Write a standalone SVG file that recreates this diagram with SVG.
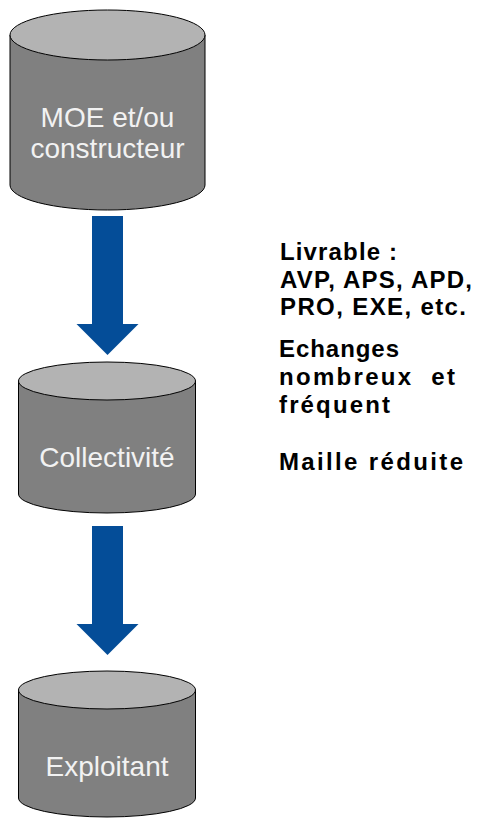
<svg xmlns="http://www.w3.org/2000/svg" width="479" height="818" viewBox="0 0 479 818">
<style>
.body{fill:#808080;stroke:#000;stroke-width:1}
.top{fill:#b3b3b3;stroke:#000;stroke-width:1}
.lbl{font-family:"Liberation Sans",Arial,sans-serif;font-size:28px;fill:#f2f2f2;text-anchor:middle}
.note{font-family:"Liberation Sans",Arial,sans-serif;font-weight:bold;font-size:24px;fill:#000}
.arrow{fill:#044d98}
</style>
<rect width="479" height="818" fill="#fff"/>
<g id="connectors">
<polygon class="arrow" points="92,216 123,216 123,324 138.5,324 107.5,355 76.5,324 92,324"/>
<polygon class="arrow" points="92,526 123,526 123,624 138.5,624 107.5,655 76.5,624 92,624"/>
</g>
<g id="node-moe">
<path class="body" d="M10,35 L10,185 A97.5,25 0 0 0 205,185 L205,35 Z"/>
<ellipse class="top" cx="107.5" cy="35" rx="97.5" ry="25"/>
<text class="lbl" x="107.5" y="127">MOE et/ou</text>
<text class="lbl" x="107.5" y="158">constructeur</text>
</g>
<g id="node-collectivite">
<path class="body" d="M18.5,381 L18.5,494 A88.5,19 0 0 0 195.5,494 L195.5,381 Z"/>
<ellipse class="top" cx="107" cy="381" rx="88.5" ry="19"/>
<text class="lbl" x="107" y="467">Collectivité</text>
</g>
<g id="node-exploitant">
<path class="body" d="M18.5,690 L18.5,798 A88.5,19 0 0 0 195.5,798 L195.5,690 Z"/>
<ellipse class="top" cx="107" cy="690" rx="88.5" ry="19"/>
<text class="lbl" x="107" y="776">Exploitant</text>
</g>
<g id="notes">
<text class="note" x="280" y="260" textLength="117" lengthAdjust="spacing">Livrable :</text>
<text class="note" x="280" y="287.5" textLength="192" lengthAdjust="spacing">AVP, APS, APD,</text>
<text class="note" x="280" y="315" textLength="186" lengthAdjust="spacing">PRO, EXE, etc.</text>
<text class="note" x="279" y="357" textLength="120" lengthAdjust="spacing">Echanges</text>
<text class="note" x="279" y="385" xml:space="preserve" textLength="176" lengthAdjust="spacing">nombreux  et</text>
<text class="note" x="279" y="413" textLength="111" lengthAdjust="spacing">fréquent</text>
<text class="note" x="279" y="470" textLength="184" lengthAdjust="spacing">Maille réduite</text>
</g>
</svg>
